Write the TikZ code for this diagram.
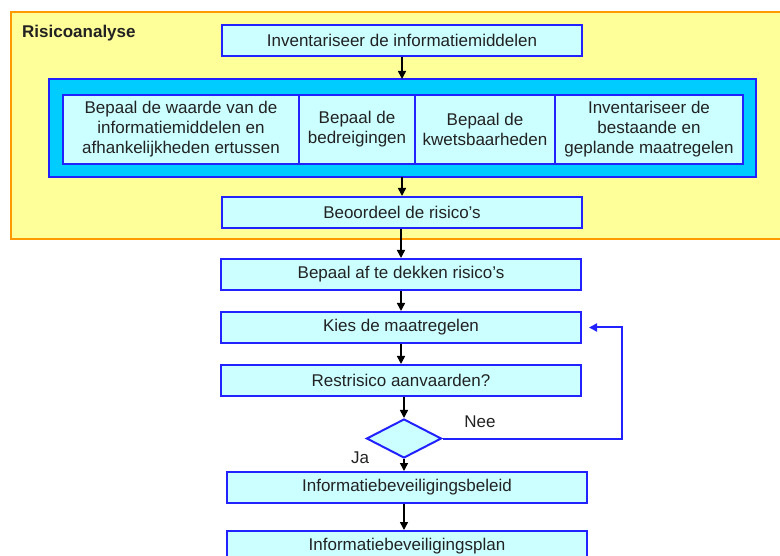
\documentclass[tikz,border=0pt]{standalone}
\usepackage{fontspec}
\setmainfont{Liberation Sans}
\usetikzlibrary{shapes.geometric,arrows.meta}

\definecolor{boxfill}{HTML}{CCFFFF}
\definecolor{boxline}{HTML}{2222FF}
\definecolor{bandfill}{HTML}{00CCFF}
\definecolor{areafill}{HTML}{FFFF99}
\definecolor{arealine}{HTML}{FF9900}
\definecolor{textcol}{HTML}{222222}

\tikzset{
    stepbox/.style={draw=boxline, line width=2pt, fill=boxfill, inner sep=0pt,
        minimum width=360pt, minimum height=31pt, text=textcol,
        font=\fontsize{17}{20}\selectfont},
    partbox/.style={stepbox, minimum width=0pt, minimum height=69pt, align=center},
    flow/.style={line width=1.6pt, -{Triangle[length=8pt,width=8pt]}},
    back/.style={draw=boxline, line width=2pt, -{Triangle[length=8pt,width=8pt]}},
}

\begin{document}
\begin{tikzpicture}[x=1pt,y=-1pt]
    \useasboundingbox (0,0) rectangle (780,556);
    \clip (0,0) rectangle (780,556);

    % area of the risk analysis
    \draw[fill=areafill, draw=arealine, line width=2pt] (11,12) rectangle (790,239);
    \node[anchor=north west, font=\fontsize{17}{20}\selectfont\bfseries, text=textcol, inner sep=0pt] (title) at (22,25) {Risicoanalyse};

    \node[stepbox] (inv) at (402,40.5) {Inventariseer de informatiemiddelen};

    % band with the four parts
    \draw[fill=bandfill, draw=boxline, line width=2pt] (49,79) rectangle (756,177);
    \node[partbox, minimum width=236pt] (waarde) at (181,129.5) {Bepaal de waarde van de\\informatiemiddelen en\\afhankelijkheden ertussen};
    \node[partbox, minimum width=116pt] (dreig) at (357,129.5) {Bepaal de\\bedreigingen};
    \node[partbox, minimum width=140pt] (kwets) at (485,129.5) {Bepaal de\\kwetsbaarheden};
    \node[partbox, minimum width=188pt] (maat) at (649,129.5) {Inventariseer de\\bestaande en\\geplande maatregelen};

    \node[stepbox] (beoord) at (402,212.5) {Beoordeel de risico’s};

    % rest of the flow
    \node[stepbox] (dekken) at (401,274.5) {Bepaal af te dekken risico’s};
    \node[stepbox] (kies) at (401,327.5) {Kies de maatregelen};
    \node[stepbox] (rest) at (401,380.5) {Restrisico aanvaarden?};
    \node[draw=boxline, line width=2pt, fill=boxfill, diamond, inner sep=0pt,
        minimum width=75pt, minimum height=39pt] (keus) at (404,438.5) {};
    \node[stepbox] (beleid) at (407,487.5) {Informatiebeveiligingsbeleid};
    \node[stepbox] (plan) at (407,546.5) {Informatiebeveiligingsplan};

    \node[font=\fontsize{17}{20}\selectfont, text=textcol] (nee) at (480,422) {Nee};
    \node[font=\fontsize{17}{20}\selectfont, text=textcol] (ja) at (360,458) {Ja};

    \draw[flow] (inv) -- (402,79);
    \draw[flow] (402,177) -- (beoord);
    \draw[flow] (beoord.south -| dekken) -- (dekken);
    \draw[flow] (dekken) -- (kies);
    \draw[flow] (kies) -- (rest);
    \draw[flow] (rest.south -| keus) -- (keus);
    \draw[flow] (keus) -- (keus.south |- beleid.north);
    \draw[flow] (beleid.south -| keus) -- (keus |- plan.north);
    \draw[back, shorten >=7pt] (keus.east) -| (622,327.5) -- (kies.east);
\end{tikzpicture}
\end{document}
